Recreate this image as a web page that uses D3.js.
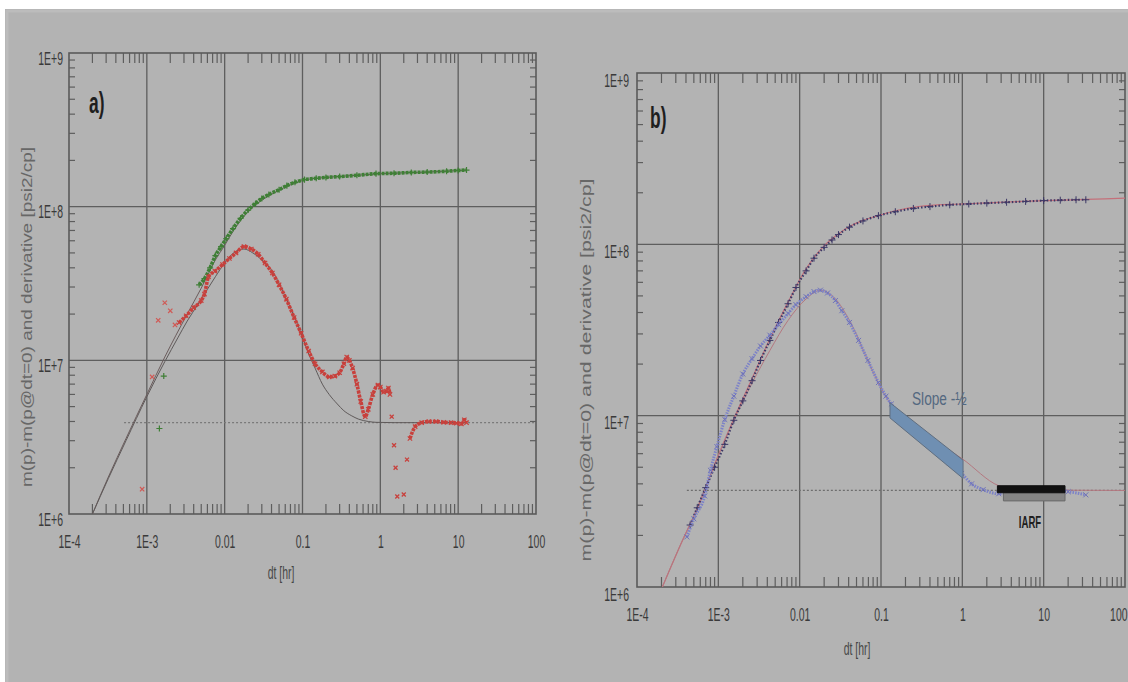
<!DOCTYPE html>
<html>
<head>
<meta charset="utf-8">
<script src="https://cdn.jsdelivr.net/npm/d3@7"></script>
<style>
  body { margin: 0; background: #fff; }
  svg { display: block; }
  text { font-family: "Liberation Sans", Arial, sans-serif; }
</style>
</head>
<body>
<svg id="chart" width="1128" height="682"></svg>
<script>
// values, [dt (hr), value (psi2/cp)]
const xTickLabels = ["1E-4", "1E-3", "0.01", "0.1", "1", "10", "100"];
const yTickLabels = ["1E+6", "1E+7", "1E+8", "1E+9"];

// panel a) - measured pressure change (green), derivative (red), model (thin)
const pressA = [[4.7e-3,3.1e7],[5.5e-3,3.4e7],[6.5e-3,4.0e7],[7.6e-3,4.8e7],[9e-3,5.5e7],[1.05e-2,6.2e7],
  [1.28e-2,7.2e7],[1.6e-2,8.4e7],[2.0e-2,9.5e7],[2.5e-2,1.05e8],[3.0e-2,1.13e8],[3.7e-2,1.2e8],[5.0e-2,1.29e8],
  [6.3e-2,1.37e8],[8.0e-2,1.44e8],[0.106,1.5e8],[0.15,1.53e8],[0.2,1.55e8],[0.3,1.57e8],[0.5,1.6e8],[0.88,1.64e8],
  [1.5,1.65e8],[2.5,1.67e8],[4.0,1.68e8],[7.1,1.7e8],[10,1.72e8],[12.8,1.73e8]];
const pressAScatter = [[1.65e-3,7.9e6],[1.45e-3,3.6e6]];
const derivA = [[2.6e-3,1.76e7],[3.2e-3,1.95e7],[4.0e-3,2.2e7],[5.0e-3,2.45e7],[5.5e-3,2.7e7],[6.2e-3,3.5e7],
  [7.5e-3,3.8e7],[9.4e-3,4.2e7],[1.15e-2,4.6e7],[1.4e-2,5.0e7],[1.77e-2,5.5e7],[2.2e-2,5.3e7],[2.7e-2,4.9e7],
  [3.3e-2,4.3e7],[4.1e-2,3.7e7],[5.0e-2,3.1e7],[6.2e-2,2.5e7],[7.8e-2,1.9e7],[9.6e-2,1.5e7],[0.12,1.15e7],
  [0.145,9.5e6],[0.18,8.4e6],[0.22,7.8e6],[0.26,7.9e6],[0.3,8.3e6],[0.34,9.5e6],[0.37,1.05e7],[0.4,1.0e7],
  [0.44,8.9e6],[0.5,7.0e6],[0.56,5.4e6],[0.64,4.3e6],[0.7,4.8e6],[0.8,6.0e6],[0.93,6.9e6],[1.0,6.7e6],
  [1.1,6.2e6],[1.2,6.3e6],[1.27,6.6e6],[1.33,6.0e6]];
const derivADip = [[1.4,4.3e6],[1.5,2.8e6],[1.57,2.0e6],[1.65,1.3e6],[1.8,0.95e6],[2.0,1.34e6],[2.2,2.26e6]];
const derivALate = [[2.4,3.1e6],[2.8,3.7e6],[3.4,3.93e6],[4.2,4.0e6],[5.2,4.0e6],[6.5,3.95e6],[8.1,3.93e6],
  [9.5,3.9e6],[11,3.86e6],[12,4.1e6],[12.8,3.93e6]];
const derivAScatter = [[8.7e-4,1.45e6],[1.17e-3,7.8e6],[1.4e-3,1.82e7],[1.7e-3,2.37e7],[2.0e-3,2.1e7],[2.3e-3,1.7e7]];
const modelPressA = [[2e-4,1e6],[3.2e-4,1.74e6],[5.4e-4,3.1e6],[1e-3,6.0e6],[1.7e-3,1.05e7],[3.3e-3,2.0e7],
  [5e-3,2.95e7],[7.6e-3,4.5e7],[1.0e-2,5.6e7],[1.28e-2,6.9e7],[2.0e-2,9.3e7],[3.0e-2,1.1e8],[5.0e-2,1.28e8],
  [0.1,1.48e8],[0.2,1.55e8],[0.5,1.6e8],[1,1.64e8],[3,1.67e8],[13,1.73e8]];
const modelDerivA = [[2e-4,1e6],[3.2e-4,1.7e6],[5.4e-4,3.0e6],[1e-3,5.8e6],[1.7e-3,9.8e6],[2.5e-3,1.4e7],
  [3.3e-3,1.8e7],[4.5e-3,2.3e7],[6e-3,2.9e7],[7.6e-3,3.5e7],[1.0e-2,4.3e7],[1.3e-2,5.0e7],[1.77e-2,5.3e7],
  [2.3e-2,5.0e7],[3.0e-2,4.5e7],[4.1e-2,3.8e7],[6.0e-2,2.6e7],[9.6e-2,1.5e7],[0.12,1.1e7],[0.145,8.9e6],
  [0.18,7.0e6],[0.22,6.0e6],[0.28,5.2e6],[0.34,4.7e6],[0.43,4.35e6],[0.52,4.15e6],[0.7,4.0e6],[0.88,3.95e6],
  [1.5,3.93e6],[13,3.93e6]];
const iarfA = [[5.1e-4,3.93e6],[100,3.93e6]];

// panel b) - measured pressure (dark), derivative (blue), model (pink)
const pressB = [[4.5e-4,2.3e6],[5.5e-4,2.9e6],[7e-4,3.8e6],[9e-4,5.0e6],[1.2e-3,6.8e6],[1.55e-3,9.4e6],
  [2e-3,1.22e7],[2.6e-3,1.6e7],[3.3e-3,2.1e7],[4.3e-3,2.75e7],[5.5e-3,3.5e7],[7.2e-3,4.5e7],[9e-3,5.6e7],
  [1.2e-2,7.0e7],[1.5e-2,8.3e7],[2.0e-2,9.6e7],[2.5e-2,1.06e8],[3.0e-2,1.14e8],[4.1e-2,1.26e8],[6e-2,1.37e8],
  [9.3e-2,1.47e8],[0.15,1.55e8],[0.25,1.62e8],[0.4,1.66e8],[0.7,1.7e8],[1.2,1.72e8],[2,1.74e8],[3.5,1.76e8],
  [6,1.78e8],[10,1.8e8],[16,1.81e8],[25,1.82e8],[33,1.82e8]];
const derivB = [[4.1e-4,1.96e6],[5.0e-4,2.5e6],[6.8e-4,3.4e6],[8.0e-4,4.8e6],[9.6e-4,6.6e6],[1.2e-3,9.5e6],
  [1.55e-3,1.3e7],[2.0e-3,1.75e7],[2.6e-3,2.15e7],[3.3e-3,2.55e7],[4.3e-3,2.95e7],[5.5e-3,3.4e7],[7.2e-3,3.95e7],
  [9.0e-3,4.45e7],[1.2e-2,4.95e7],[1.5e-2,5.3e7],[1.8e-2,5.4e7],[2.2e-2,5.2e7],[2.75e-2,4.7e7],[3.3e-2,4.1e7],
  [4.1e-2,3.5e7],[5.3e-2,2.75e7],[6.9e-2,2.1e7],[9.3e-2,1.56e7],[0.115,1.3e7],[0.134,1.17e7],[0.2,9.6e6],
  [0.32,7.9e6],[0.5,6.2e6],[0.7,5.3e6],[0.98,4.6e6],[1.3,4.0e6],[1.8,3.7e6],[2.8,3.5e6],[4.5,3.6e6],
  [7.1,3.7e6],[12,3.65e6],[20,3.6e6],[33,3.45e6]];
const modelPressB = [[2.05e-4,1e6],[3.3e-4,1.69e6],[5.5e-4,2.86e6],[9.6e-4,5.6e6],[1.55e-3,9.6e6],[2.6e-3,1.65e7],
  [4.3e-3,2.8e7],[7.2e-3,4.6e7],[1.2e-2,7.2e7],[2.0e-2,9.8e7],[3.0e-2,1.15e8],[4.1e-2,1.27e8],[6e-2,1.38e8],
  [9.3e-2,1.47e8],[0.15,1.57e8],[0.32,1.67e8],[0.98,1.72e8],[3,1.76e8],[10.6,1.8e8],[33,1.83e8],[100,1.86e8]];
const modelDerivB = [[2.05e-4,1e6],[3.3e-4,1.7e6],[5.5e-4,2.9e6],[9.6e-4,5.6e6],[1.55e-3,9.4e6],[2.6e-3,1.55e7],
  [4.3e-3,2.4e7],[7.2e-3,3.6e7],[1.2e-2,4.8e7],[1.8e-2,5.4e7],[2.75e-2,4.8e7],[4.1e-2,3.6e7],[6.9e-2,2.1e7],
  [9.3e-2,1.55e7],[0.134,1.15e7],[0.32,8.0e6],[1.0,5.6e6],[2.8,3.9e6],[5,3.7e6],[100,3.66e6]];
const iarfB = [[4.1e-4,3.66e6],[100,3.66e6]];
const slopeBand = [[0.129,1.19e7,9.7e6],[1.02,5.5e6,4.3e6]];   // t, top, bottom
const iarfBlack = [[2.7,3.9e6,3.55e6],[18.3,3.9e6,3.55e6]];
const iarfGray = [[3.2,3.55e6,3.18e6],[18.3,3.55e6,3.18e6]];

const yTitle = "m(p)-m(p@dt=0) and derivative [psi2/cp]";

const svg = d3.select("#chart");
svg.append("rect").attr("x", 5).attr("y", 9).attr("width", 1123).attr("height", 673).attr("fill", "#b3b3b3");
svg.append("rect").attr("x", 7).attr("y", 11).attr("width", 1125).attr("height", 675)
  .attr("fill", "none").attr("stroke", "#bcbcbc").attr("stroke-width", 3);

// squeezed text, as in the picture
function label(g, s, x, y, o) {
  return g.append("text").text(s)
    .attr("transform", `translate(${x},${y}) scale(${o.sx || 0.55},1)`)
    .attr("text-anchor", o.anchor || "middle")
    .attr("font-size", o.size || 17)
    .attr("font-weight", o.weight || "normal")
    .attr("font-family", o.family || null)
    .attr("fill", o.fill || "#3a3a3a");
}

function panel(p) {
  const g = svg.append("g");
  const x = d3.scaleLog().domain([1e-4, 100]).range([p.x0, p.x1]);
  const y = d3.scaleLog().domain([1e6, 1e9]).range([p.y1, p.y0]);
  const isMajor = d => Math.abs(Math.log10(d) - Math.round(Math.log10(d))) < 1e-6;

  g.append("clipPath").attr("id", "clip" + p.id).append("rect")
    .attr("x", p.x0).attr("y", p.y0).attr("width", p.x1 - p.x0).attr("height", p.y1 - p.y0);

  // grid at decades
  g.selectAll(".gx").data(x.ticks().filter(isMajor).slice(1, -1)).join("line")
    .attr("x1", d => x(d)).attr("x2", d => x(d)).attr("y1", p.y0).attr("y2", p.y1)
    .attr("stroke", "#5e5e5e").attr("stroke-width", 1.3);
  g.selectAll(".gy").data(y.ticks().filter(isMajor).slice(1, -1)).join("line")
    .attr("y1", d => y(d)).attr("y2", d => y(d)).attr("x1", p.x0).attr("x2", p.x1)
    .attr("stroke", "#5e5e5e").attr("stroke-width", 1.3);

  // minor ticks, pointing inward on all four sides
  const mx = x.ticks().filter(d => !isMajor(d));
  const my = y.ticks().filter(d => !isMajor(d));
  const tk = g.append("g").attr("stroke", "#5e5e5e").attr("stroke-width", 1.2);
  tk.selectAll(".tb").data(mx).join("line").attr("x1", d => x(d)).attr("x2", d => x(d))
    .attr("y1", p.y1).attr("y2", p.y1 - 10);
  tk.selectAll(".tt").data(mx).join("line").attr("x1", d => x(d)).attr("x2", d => x(d))
    .attr("y1", p.y0).attr("y2", p.y0 + 10);
  tk.selectAll(".tl").data(my).join("line").attr("y1", d => y(d)).attr("y2", d => y(d))
    .attr("x1", p.x0).attr("x2", p.x0 + 6);
  tk.selectAll(".tr").data(my).join("line").attr("y1", d => y(d)).attr("y2", d => y(d))
    .attr("x1", p.x1).attr("x2", p.x1 - 6);

  // axes: labels only
  const ax = g.append("g").attr("transform", `translate(0,${p.y1})`)
    .call(d3.axisBottom(x).tickValues(x.ticks().filter(isMajor)).tickFormat((d, i) => xTickLabels[i]).tickSize(0));
  ax.select(".domain").remove();
  ax.selectAll("text").attr("y", 0).attr("dy", 0)
    .attr("transform", `translate(0,${p.xLab}) scale(0.55,1)`)
    .attr("font-size", 19).attr("fill", "#3a3a3a").attr("font-family", "Liberation Sans, Arial, sans-serif")
    .attr("text-anchor", (d, i, n) => (p.lastEnd && i === n.length - 1) ? "end" : "middle")
    .attr("x", (d, i, n) => (p.lastEnd && i === n.length - 1) ? p.lastEnd / 0.55 : 0);
  const ay = g.append("g").attr("transform", `translate(${p.x0},0)`)
    .call(d3.axisLeft(y).tickValues(y.ticks().filter(isMajor)).tickFormat((d, i) => yTickLabels[i]).tickSize(0));
  ay.select(".domain").remove();
  ay.selectAll("text").attr("x", 0).attr("dy", 0)
    .attr("transform", `translate(${p.yLabX},${p.yLabDy}) scale(0.55,1)`)
    .attr("font-size", 19).attr("fill", "#3a3a3a").attr("font-family", "Liberation Sans, Arial, sans-serif");

  // frame
  g.append("rect").attr("x", p.x0).attr("y", p.y0).attr("width", p.x1 - p.x0).attr("height", p.y1 - p.y0)
    .attr("fill", "none").attr("stroke", "#5a5a5a").attr("stroke-width", 1.6);

  // titles
  label(g, "dt [hr]", p.dtX, p.dtY, { size: 19, fill: "#474747" });
  g.append("text").text(yTitle)
    .attr("transform", `translate(${p.titleX},${p.titleY}) rotate(-90)`)
    .attr("text-anchor", "middle").attr("font-size", 14).attr("fill", "#676767")
    .attr("textLength", p.titleLen).attr("lengthAdjust", "spacingAndGlyphs");
  label(g, p.tag, p.tagX, p.tagY, { size: 29, weight: "bold", anchor: "start", sx: 0.6, fill: "#1e1e1e" });

  const plot = g.append("g").attr("clip-path", `url(#clip${p.id})`);
  return { x, y, plot, g };
}

function line(ctx, data, color, w, dash) {
  const gen = d3.line().x(d => ctx.x(d[0])).y(d => ctx.y(d[1])).curve(d3.curveMonotoneX);
  return ctx.plot.append("path").datum(data).attr("d", gen).attr("fill", "none")
    .attr("stroke", color).attr("stroke-width", w).attr("stroke-dasharray", dash || null);
}
function marks(ctx, data, color, type, size, w) {
  ctx.plot.append("g").selectAll("path").data(data).join("path")
    .attr("transform", d => `translate(${ctx.x(d[0])},${ctx.y(d[1])})`)
    .attr("d", d3.symbol(type, size)).attr("fill", "none").attr("stroke", color).attr("stroke-width", w);
}
function band(ctx, data, fill, stroke) {
  const area = d3.area().x(d => ctx.x(d[0])).y0(d => ctx.y(d[2])).y1(d => ctx.y(d[1]));
  ctx.plot.append("path").datum(data).attr("d", area).attr("fill", fill).attr("stroke", stroke).attr("stroke-width", 1);
}

// ---------- panel a
const A = panel({ id: "a", x0: 69, x1: 536, y0: 53, y1: 514, xLab: 34, yLabX: -6, yLabDy: 11,
  dtX: 281, dtY: 579, titleX: 32, titleY: 317, titleLen: 340, tag: "a)", tagX: 89, tagY: 113 });
line(A, iarfA, "#7a7a7a", 1.2, "2,2");
line(A, modelPressA, "#6b5c5c", 1);
line(A, pressA, "#3f7f36", 3.6, "3,1");
marks(A, pressA, "#3f7f36", d3.symbolPlus, 14, 1.2);
marks(A, pressAScatter, "#3f7f36", d3.symbolPlus, 14, 1.2);
line(A, modelDerivA, "#5f5a5a", 1);
line(A, derivA, "#c8403c", 3.6, "3,1");
line(A, derivALate, "#c8403c", 3.6, "3,1");
marks(A, derivA.concat(derivALate), "#c8403c", d3.symbolTimes, 14, 1.2);
marks(A, derivADip, "#c8403c", d3.symbolTimes, 12, 1.3);
marks(A, derivAScatter, "#d05a56", d3.symbolTimes, 14, 1.2);

// ---------- panel b
const B = panel({ id: "b", x0: 637, x1: 1125, y0: 73, y1: 587, xLab: 34, yLabX: -8, yLabDy: 13, lastEnd: 2,
  dtX: 857, dtY: 655, titleX: 591, titleY: 370, titleLen: 383, tag: "b)", tagX: 650, tagY: 128 });
line(B, iarfB, "#6e6e6e", 1.2, "2,2");
line(B, iarfB.filter(d => d[0] > 1), "#6e6e6e", 1.2);
line(B, modelPressB, "#c4707a", 1.2);
line(B, modelDerivB, "#b47880", 1);
line(B, pressB, "#3c3866", 2.2, "1.5,2");
marks(B, pressB, "#3c3866", d3.symbolPlus, 18, 1);
line(B, derivB, "#7c82c8", 3, "1.5,1.2");
marks(B, derivB, "#6f72b8", d3.symbolTimes, 18, 1);
band(B, slopeBand, "#6f8fb2", "#5f6e80");
band(B, iarfGray, "#858585", "#6a6a6a");
band(B, iarfBlack, "#111", "#111");
label(B.g, "Slope -½", 912, 405, { size: 19, sx: 0.72, anchor: "start", family: "Liberation Serif, serif", fill: "#536880" });
label(B.g, "IARF", 1030, 528, { size: 16, sx: 0.6, weight: "bold", fill: "#1e1e1e" });
</script>
</body>
</html>
